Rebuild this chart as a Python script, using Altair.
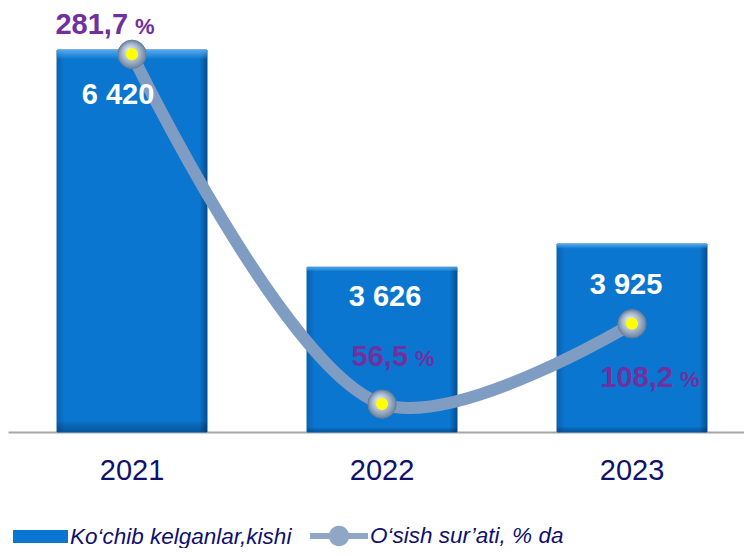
import altair as alt
import pandas as pd

# ---- data ----
years = ["2021", "2022", "2023"]
migrants = [6420, 3626, 3925]          # Ko‘chib kelganlar, kishi
growth = [281.7, 56.5, 108.2]          # O‘sish sur’ati, % da

LEG1 = "Ko\u2018chib kelganlar,kishi"
LEG2 = "O\u2018sish sur\u2019ati, % da"

df = pd.DataFrame({
    "year": years,
    "count": migrants,
    "rate": growth,
})
df["count_label"] = [f"{v:,}".replace(",", " ") for v in migrants]
df["rate_label"] = [f"{g:.1f}".replace(".", ",") for g in growth]
df["pct"] = "%"
df["s1"] = LEG1
df["s2"] = LEG2

FONT = "Liberation Sans"
BAR_BLUE = "#0a76cf"
LINE_COL = "#7f9cc3"
PURPLE = "#7030a0"
NAVY = "#10106e"

# per-point label offsets (style)
bar_label_off = {"2021": (-14, 54), "2022": (3, 39), "2023": (-6, 50)}
pct_label_off = {"2021": (-4, -20), "2022": (26, -38), "2023": (41, 63)}

Y1_MIN, Y1_MAX = 1507, 6960
Y2_MIN, Y2_MAX = 38.5, 311.5

x_enc = alt.X(
    "year:N", sort=years,
    scale=alt.Scale(paddingInner=0.4, paddingOuter=0.172, align=0.57),
    axis=alt.Axis(title=None, labelAngle=0, labelFont=FONT, labelFontSize=29,
                  labelColor=NAVY, ticks=False, domainColor="#a6a6a6",
                  domainWidth=2, labelPadding=24, grid=False),
)
y1 = alt.Y("count:Q", scale=alt.Scale(domain=[Y1_MIN, Y1_MAX], zero=False, nice=False), axis=None)
y2 = alt.Y("rate:Q", scale=alt.Scale(domain=[Y2_MIN, Y2_MAX], zero=False, nice=False), axis=None)

base = alt.Chart(df)

legend_common = dict(orient="none", title=None, symbolStrokeWidth=0, labelFont=FONT,
                     labelFontSize=22.5, labelFontStyle="italic", labelColor=NAVY,
                     labelLimit=600, labelOffset=2, padding=0)

rect_path = "M-1,-0.236H1V0.236H-1Z"
bars = base.mark_bar(stroke="#0860ad", strokeWidth=1).encode(
    x=x_enc, y=y1, y2=alt.datum(Y1_MIN),
    fill=alt.Fill("s1:N", scale=alt.Scale(domain=[LEG1], range=[BAR_BLUE]),
                  legend=alt.Legend(legendX=5, legendY=501, symbolType=rect_path,
                                    symbolSize=55 * 55, **legend_common)),
)
bar_sides = base.mark_bar(
    fill=alt.LinearGradient(gradient="linear", x1=0, x2=1, y1=0, y2=0, stops=[
        alt.GradientStop(offset=0, color="#0b62b0"),
        alt.GradientStop(offset=0.05, color=BAR_BLUE),
        alt.GradientStop(offset=0.95, color=BAR_BLUE),
        alt.GradientStop(offset=1, color="#054f90"),
    ])
).encode(x=x_enc, y=y1, y2=alt.datum(Y1_MIN))
bar_top = base.mark_bar(
    fill=alt.LinearGradient(gradient="linear", x1=0, x2=0, y1=0, y2=1, stops=[
        alt.GradientStop(offset=0, color="rgba(90,175,240,0.9)"),
        alt.GradientStop(offset=0.025, color="rgba(90,175,240,0.0)"),
        alt.GradientStop(offset=0.97, color="rgba(0,0,0,0)"),
        alt.GradientStop(offset=1, color="rgba(0,30,70,0.35)"),
    ])
).encode(x=x_enc, y=y1, y2=alt.datum(Y1_MIN))

line = base.mark_line(interpolate="catmull-rom", strokeWidth=12, color=LINE_COL,
                      strokeCap="round").encode(x=x_enc, y=y2)

leg2_path = ("M-1,-0.1H1V0.1H-1Z "
             "M0.35,0A0.35,0.35 0 1,1 -0.35,0A0.35,0.35 0 1,1 0.35,0Z")
pts_legend = base.mark_point(filled=True, size=800, opacity=1).encode(
    x=x_enc, y=y2,
    color=alt.Color("s2:N", scale=alt.Scale(domain=[LEG2], range=["#8fa6c4"]),
                    legend=alt.Legend(legendX=302, legendY=499, symbolType=leg2_path,
                                      symbolSize=58 * 58, **legend_common)),
)
pts = base.mark_point(
    filled=True, size=800, opacity=1, stroke="#687d99", strokeWidth=1,
    fill=alt.RadialGradient(gradient="radial", x1=0.4, y1=0.35, r1=0,
                            x2=0.5, y2=0.5, r2=0.5, stops=[
        alt.GradientStop(offset=0, color="#eef3f9"),
        alt.GradientStop(offset=0.6, color="#a9bbd2"),
        alt.GradientStop(offset=1, color="#6f839e"),
    ])
).encode(x=x_enc, y=y2)
dots = base.mark_point(filled=True, size=150, opacity=1, fill="#ffff00",
                       strokeOpacity=0).encode(x=x_enc, y=y2)

text_layers = []
for yr in years:
    dx, dy = bar_label_off[yr]
    text_layers.append(
        base.transform_filter(alt.datum.year == yr).mark_text(
            font=FONT, fontSize=29, fontWeight="bold", color="white",
            baseline="alphabetic", align="center", dx=dx, dy=dy
        ).encode(x=x_enc, y=y1, text="count_label:N")
    )
for yr in years:
    dx, dy = pct_label_off[yr]
    f = base.transform_filter(alt.datum.year == yr)
    text_layers.append(
        f.mark_text(font=FONT, fontSize=29, fontWeight="bold", color=PURPLE,
                    baseline="alphabetic", align="right", dx=dx, dy=dy)
        .encode(x=x_enc, y=y2, text="rate_label:N")
    )
    text_layers.append(
        f.mark_text(font=FONT, fontSize=22, fontWeight="bold", color=PURPLE,
                    baseline="alphabetic", align="left", dx=dx + 7, dy=dy)
        .encode(x=x_enc, y=y2, text="pct:N")
    )

chart = alt.layer(
    bars, bar_sides, bar_top, line, pts_legend, pts, dots, *text_layers
).resolve_scale(
    y="independent", fill="independent", color="independent"
).properties(
    width=736, height=424,
    autosize=alt.AutoSizeParams(type="none"),
    padding={"left": 0, "top": 0, "right": 0, "bottom": 116},
    background="white",
).configure_view(stroke=None)

chart.save("out.html", embed_options={"renderer": "svg", "actions": False})
